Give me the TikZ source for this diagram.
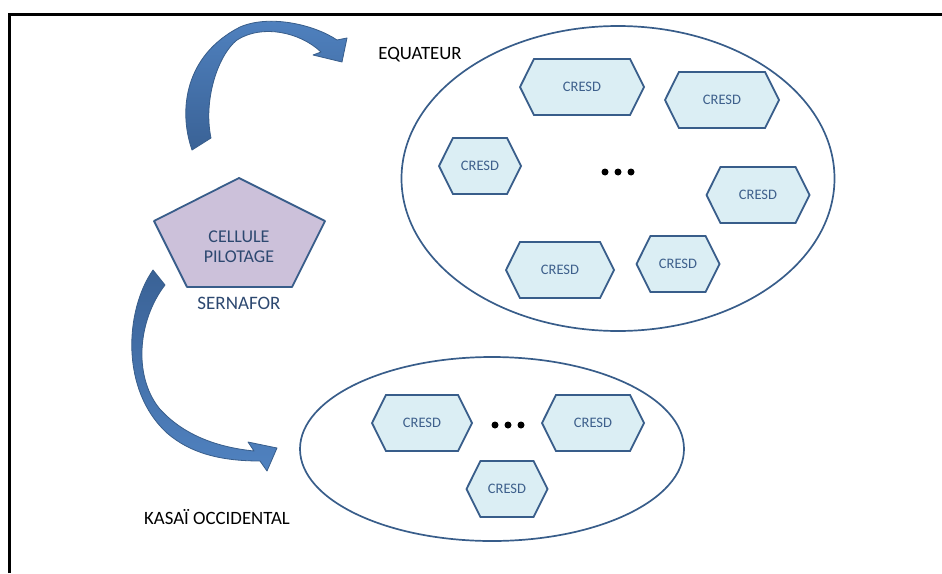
\documentclass[tikz,border=0pt]{standalone}
\usepackage{fontspec}
\setmainfont{Carlito}
\usepackage{tikz}
\usetikzlibrary{shapes.geometric,
	shapes.symbols,
	positioning}

\definecolor{hexfill}{RGB}{219,238,244}
\definecolor{hexline}{RGB}{56,93,138}
\definecolor{cresdtext}{RGB}{62,96,140}
\definecolor{pilotfill}{RGB}{204,193,218}
\definecolor{pilottext}{RGB}{45,72,112}
\definecolor{arrowlight}{RGB}{80,130,192}
\definecolor{arrowdark}{RGB}{58,98,150}

\tikzset{
	cresd/.style={signal, signal to=west and east, signal pointer angle=127, draw=hexline, fill=hexfill,
		line width=1.8pt, text=cresdtext, font=\fontsize{14.5}{17}\selectfont, minimum height=56pt, inner sep=0pt},
	region/.style={ellipse, draw=hexline, line width=1.7pt, inner sep=0pt},
	bigarrow/.style={draw=hexline, line width=0.8pt, line join=round}
}

\begin{document}
\begin{tikzpicture}[x=1pt, y=-1pt]
	\useasboundingbox (0, 0) rectangle (942, 573);
	% frame
	\draw[line width=3pt] (9, 573) -- (9, 14) -- (942, 14);

	% regions
	\node[region, minimum width=433pt, minimum height=305pt] (equateur) at (618, 178.5) {};
	\node[region, minimum width=384pt, minimum height=184pt] (kasai) at (492, 449) {};
	\node[font=\fontsize{18.8}{22}\selectfont] (equateurlabel) at (420, 55) {EQUATEUR};
	\node[font=\fontsize{18.8}{22}\selectfont] (kasailabel) at (217, 517) {KASAÏ OCCIDENTAL};

	% CRESD
	\foreach \name/\x/\y/\w in {e1/582/87/124, e2/722/100/114, e3/480/166/82, e4/758/195/103, e5/560/270/108, e6/678/264/83, k1/422/423/100, k2/593/423/102, k3/507/489/81} {
		\node[cresd, minimum width=\w pt] (\name) at (\x, \y) {CRESD};
	}
	\foreach \idx in {-1,0,1} {
		\fill (618+13*\idx, 172) circle (3.5);
		\fill (508+13*\idx, 425) circle (3.5);
	}

	% cellule
	\draw[fill=pilotfill, draw=hexline, line width=1.8pt, line join=round] (239, 178) -- (325, 221) -- (292, 287) -- (187, 287) -- (154, 221) -- cycle;
	\node[text=pilottext, font=\fontsize{18}{20}\selectfont, align=center] (cellule) at (239, 247) {CELLULE\\PILOTAGE};
	\node[text=pilottext, font=\fontsize{19}{22}\selectfont] (sernafor) at (239, 303) {SERNAFOR};

	% arrows
	\draw[bigarrow, top color=arrowlight, bottom color=arrowdark] (192, 150) .. controls (178, 110) and (185, 55) .. (240, 27) .. controls (270, 14) and (315, 25) .. (337, 40) -- (347, 38) -- (342, 62) -- (313, 55) -- (321, 52) .. controls (300, 32) and (262, 24) .. (237, 40) .. controls (218, 55) and (203, 100) .. (211, 138) -- cycle;
	\draw[bigarrow, top color=arrowdark, bottom color=arrowlight] (153, 270) .. controls (125, 310) and (120, 390) .. (167, 433) .. controls (190, 453) and (220, 461) .. (260, 461) -- (267, 471) -- (277, 448) -- (248, 442) -- (254, 451) .. controls (215, 447) and (182, 434) .. (159, 408) .. controls (133, 375) and (138, 320) .. (165, 285) -- cycle;
\end{tikzpicture}
\end{document}
